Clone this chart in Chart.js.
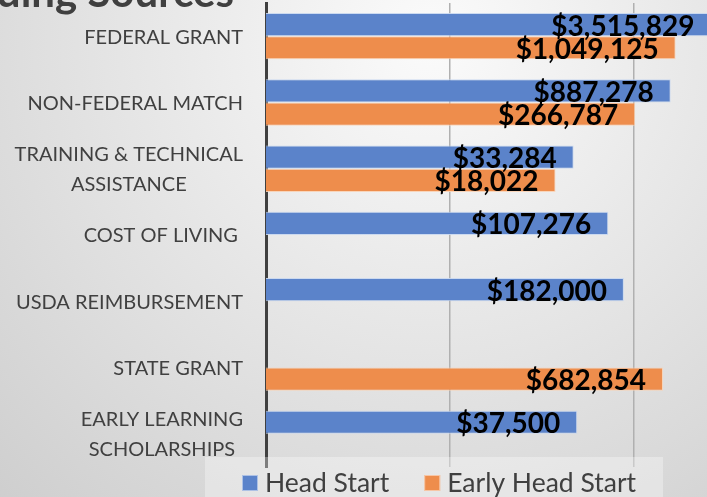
<!DOCTYPE html>
<html>
<head>
<meta charset="utf-8">
<script src="https://cdn.jsdelivr.net/npm/chart.js@4/dist/chart.umd.min.js"></script>
<style>
  html, body {
    margin: 0;
    padding: 0;
    width: 707px;
    height: 497px;
    overflow: hidden;
    background: radial-gradient(circle at 430px 40px, #fbfbfb 0px, #cdcdcd 650px);
  }
  #wrap { position: relative; width: 707px; height: 497px; }
</style>
</head>
<body>
<div id="wrap"><canvas id="funding-chart"></canvas></div>
<script>
// categories (y axis)
const categories = [
  ['FEDERAL GRANT'],
  ['NON-FEDERAL MATCH'],
  ['TRAINING & TECHNICAL', 'ASSISTANCE'],
  ['COST OF LIVING '],
  ['USDA REIMBURSEMENT'],
  ['STATE GRANT'],
  ['EARLY LEARNING', 'SCHOLARSHIPS'],
];
// series values
const headStart = [3515829, 887278, 33284, 107276, 182000, null, 37500];
const earlyHeadStart = [1049125, 266787, 18022, null, null, 682854, null];
// gridline ticks on the log axis
const gridTicks = [500, 250000];

const textColor = '#404040';
const fontName = 'Lato, "Open Sans", sans-serif';

const money = (v) => '$' + v.toLocaleString('en-US');

// category labels: lines centred on each other, block right aligned
const catLabels = {
  id: 'catLabels',
  afterDraw(chart) {
    const ctx = chart.ctx;
    const yScale = chart.scales.y;
    ctx.save();
    ctx.font = '20px ' + fontName;
    ctx.fillStyle = textColor;
    ctx.textAlign = 'center';
    ctx.textBaseline = 'middle';
    categories.forEach((lines, i) => {
      const y = yScale.getPixelForValue(i);
      const w = Math.max(...lines.map((l) => ctx.measureText(l).width));
      const cx = 243 - w / 2;
      lines.forEach((line, j) => {
        ctx.fillText(line, cx, y + (j - (lines.length - 1) / 2) * 30 + 1);
      });
    });
    ctx.restore();
  },
};

// value labels near the bar ends
const valueLabels = {
  id: 'valueLabels',
  afterDatasetsDraw(chart) {
    const ctx = chart.ctx;
    const xScale = chart.scales.x;
    ctx.save();
    ctx.font = 'bold 28px ' + fontName;
    ctx.fillStyle = '#000000';
    ctx.textAlign = 'right';
    ctx.textBaseline = 'middle';
    chart.data.datasets.forEach((ds, di) => {
      const meta = chart.getDatasetMeta(di);
      ds.data.forEach((v, i) => {
        if (v === null) return;
        const x = xScale.getPixelForValue(v) - 17;
        ctx.fillText(money(v), x, meta.data[i].y + 2);
      });
    });
    ctx.restore();
  },
};

// cropped title and legend box
const extras = {
  id: 'extras',
  afterDraw(chart) {
    const ctx = chart.ctx;
    ctx.save();
    ctx.font = 'bold 42px ' + fontName;
    ctx.fillStyle = textColor;
    ctx.textAlign = 'right';
    ctx.textBaseline = 'alphabetic';
    ctx.fillText('Funding Sources', 234, 7);

    ctx.fillStyle = 'rgba(255,255,255,0.32)';
    ctx.fillRect(205, 457, 458, 40);

    ctx.font = '26.5px ' + fontName;
    ctx.textAlign = 'left';
    ctx.textBaseline = 'middle';
    let x = 242;
    chart.data.datasets.forEach((ds) => {
      ctx.fillStyle = ds.backgroundColor;
      ctx.fillRect(x, 475, 16, 16);
      ctx.strokeStyle = 'rgba(255,255,255,0.5)';
      ctx.lineWidth = 1;
      ctx.strokeRect(x + 0.5, 475.5, 15, 15);
      ctx.fillStyle = textColor;
      ctx.fillText(ds.label, x + 23, 483);
      x += 23 + ctx.measureText(ds.label).width + 35;
    });
    ctx.restore();
  },
};

new Chart(document.getElementById('funding-chart'), {
  type: 'bar',
  data: {
    labels: categories,
    datasets: [
      {
        label: 'Head Start',
        data: headStart,
        backgroundColor: '#5b83ca',
        borderColor: 'rgba(200,215,240,0.9)',
        borderWidth: 1,
      },
      {
        label: 'Early Head Start',
        data: earlyHeadStart,
        backgroundColor: '#ee8d4c',
        borderColor: 'rgba(250,210,180,0.9)',
        borderWidth: 1,
      },
    ],
  },
  options: {
    indexAxis: 'y',
    responsive: true,
    maintainAspectRatio: false,
    animation: false,
    layout: { padding: { top: 3, right: 0, bottom: 30, left: 0 } },
    datasets: {
      bar: { categoryPercentage: 0.7, barPercentage: 1 },
    },
    plugins: {
      legend: { display: false },
      tooltip: { enabled: false },
    },
    scales: {
      x: {
        type: 'logarithmic',
        min: 1,
        max: 3030000,
        afterBuildTicks: (scale) => {
          scale.ticks = gridTicks.map((v) => ({ value: v }));
        },
        afterFit: (scale) => {
          scale.height = 0;
        },
        ticks: { display: false },
        border: { display: false },
        grid: { color: '#b0b0b0', lineWidth: 1.5, drawTicks: false },
      },
      y: {
        afterFit: (scale) => {
          scale.width = 266;
        },
        ticks: { display: false },
        grid: { display: false },
        border: { display: true, color: '#404040', width: 3 },
      },
    },
  },
  plugins: [catLabels, valueLabels, extras],
});
</script>
</body>
</html>
